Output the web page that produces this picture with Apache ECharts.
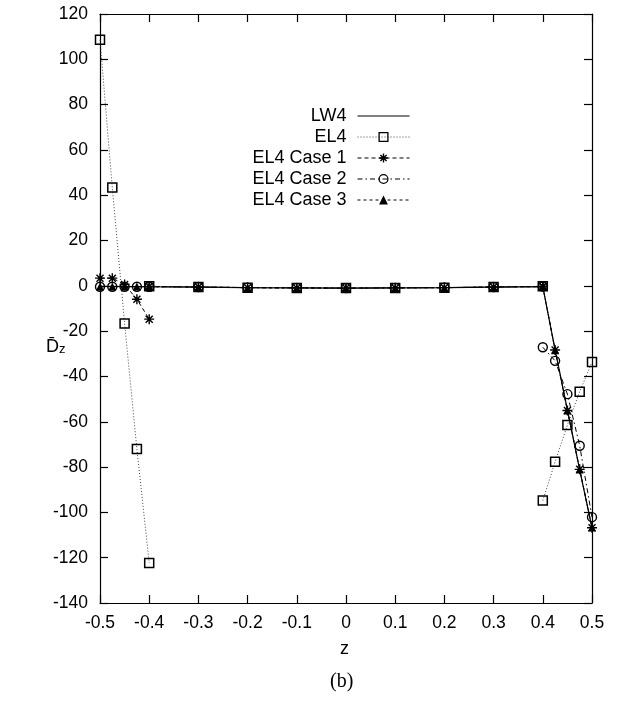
<!DOCTYPE html>
<html>
<head>
<meta charset="utf-8">
<script src="https://cdn.jsdelivr.net/npm/echarts@6/dist/echarts.min.js"></script>
<style>
html,body{margin:0;padding:0;background:#fff;}
#chart{width:626px;height:706px;}
</style>
</head>
<body>
<div id="chart"></div>
<script>
// ---- data ----
const zLeft  = [-0.5, -0.475, -0.45, -0.425, -0.4];
const zMid   = [-0.4, -0.3, -0.2, -0.1, 0, 0.1, 0.2, 0.3, 0.4];
const zRight = [0.4, 0.425, 0.45, 0.475, 0.5];

const lw4Left   = [-0.2, -0.2, -0.3, -0.3, -0.4];
const lw4Mid    = [-0.4, -0.6, -0.8, -0.9, -1.0, -0.9, -0.8, -0.6, -0.4];
const lw4Right  = [-0.4, -28.3, -54.8, -81.2, -106.8];

const el4Left   = [108.6, 43.4, -16.6, -72.0, -122.3];
const el4Mid    = [-0.2, -0.5, -0.8, -0.9, -1.0, -0.9, -0.8, -0.5, -0.2];
const el4Right  = [-94.8, -77.7, -61.4, -46.7, -33.6];

const c1Left    = [3.4, 3.4, 0.6, -5.9, -14.7];
const c1Mid     = [-0.3, -0.5, -0.8, -0.9, -1.0, -0.9, -0.8, -0.5, -0.3];
const c1Right   = [-0.3, -28.3, -55.0, -81.0, -106.8];

const c2Left    = [-0.4, -0.4, -0.4, -0.4, -0.4];
const c2Mid     = [-0.4, -0.5, -0.8, -0.9, -1.0, -0.9, -0.8, -0.5, -0.3];
const c2Right   = [-27.1, -33.1, -47.8, -70.6, -102.1];

const c3Left    = [-0.3, -0.3, -0.3, -0.3, -0.4];
const c3Mid     = [-0.4, -0.5, -0.8, -0.9, -1.0, -0.9, -0.8, -0.5, -0.3];
const c3Right   = [-0.3, -28.4, -55.0, -81.1, -106.7];

const seriesNames = ['LW4', 'EL4', 'EL4 Case 1', 'EL4 Case 2', 'EL4 Case 3'];
const xTicks = [-0.5, -0.4, -0.3, -0.2, -0.1, 0, 0.1, 0.2, 0.3, 0.4, 0.5];

// ---- build ----
function segs(l, m, r) {
  const out = [];
  zLeft.forEach((z, i) => out.push([z, l[i]]));
  out.push([zLeft[zLeft.length - 1], '-']);
  zMid.forEach((z, i) => out.push([z, m[i]]));
  out.push([zMid[zMid.length - 1], '-']);
  zRight.forEach((z, i) => out.push([z, r[i]]));
  return out;
}

const FONT = 'Liberation Sans, Arial, Helvetica, sans-serif';
const asterisk = 'path://M0,-10L0,10M-10,0L10,0M-7,-7L7,7M-7,7L7,-7';
const openSquare = 'path://M0,0L10,0L10,10L0,10Z';
const openCircle = 'path://M10,5A5,5,0,1,1,0,5A5,5,0,1,1,10,5Z';

const styles = [
  { symbol: 'none', size: 0, line: { color: '#000', width: 1.2, type: 'solid' }, item: { color: '#000' } },
  { symbol: openSquare, size: 9, line: { color: '#444', width: 1, type: [1, 2] }, item: { color: 'none', borderColor: '#000', borderWidth: 1.5 } },
  { symbol: asterisk, size: 10, line: { color: '#000', width: 1, type: [4, 3] }, item: { color: '#000', borderColor: '#000', borderWidth: 1.4 } },
  { symbol: openCircle, size: 9, line: { color: '#000', width: 1, type: [5, 3, 1.5, 3] }, item: { color: 'none', borderColor: '#000', borderWidth: 1.4 } },
  { symbol: 'triangle', size: 8, line: { color: '#000', width: 1, type: [3, 3] }, item: { color: '#000' } }
];
const dataSets = [
  segs(lw4Left, lw4Mid, lw4Right),
  segs(el4Left, el4Mid, el4Right),
  segs(c1Left, c1Mid, c1Right),
  segs(c2Left, c2Mid, c2Right),
  segs(c3Left, c3Mid, c3Right)
];

const series = seriesNames.map((n, i) => ({
  name: n,
  type: 'line',
  data: dataSets[i],
  xAxisIndex: 0, yAxisIndex: 0,
  symbol: styles[i].symbol,
  symbolSize: styles[i].size,
  showSymbol: styles[i].symbol !== 'none',
  lineStyle: styles[i].line,
  itemStyle: styles[i].item,
  connectNulls: false,
  animation: false,
  z: 2 + i
}));

const legendRowY = [116, 137, 158, 179, 200];
const legendItemStyle = [
  { opacity: 0 },
  { color: 'none', borderColor: '#000', borderWidth: 1.3 },
  { color: '#000', borderColor: '#000', borderWidth: 1.4 },
  { color: 'none', borderColor: '#000', borderWidth: 1.3 },
  { color: '#000', borderWidth: 0 }
];
const legends = seriesNames.map((n, i) => ({
  data: [n],
  right: 211,
  top: legendRowY[i] - 14,
  orient: 'horizontal',
  align: 'right',
  itemWidth: 52,
  itemHeight: 11,
  selectedMode: false,
  itemStyle: legendItemStyle[i],
  lineStyle: { width: 1 },
  textStyle: { fontFamily: FONT, fontSize: 18, color: '#000', padding: [0, 6, 0, 0] }
}));

const axisCommonX = {
  type: 'value', min: -0.5, max: 0.5, interval: 0.1,
  axisLine: { show: true, onZero: false, lineStyle: { color: '#000', width: 1.2 } },
  axisTick: { show: true, inside: true, length: 8, lineStyle: { color: '#000', width: 1.2 } },
  splitLine: { show: false }
};
const axisCommonY = {
  type: 'value', min: -140, max: 120, interval: 20,
  axisLine: { show: true, onZero: false, lineStyle: { color: '#000', width: 1.2 } },
  axisTick: { show: true, inside: true, length: 8, lineStyle: { color: '#000', width: 1.2 } },
  splitLine: { show: false }
};

const chart = echarts.init(document.getElementById('chart'), null, { renderer: 'canvas' });
chart.setOption({
  backgroundColor: '#fff',
  animation: false,
  grid: { left: 100, right: 34, top: 14, bottom: 103, containLabel: false },
  legend: legends,
  xAxis: [
    Object.assign({}, axisCommonX, {
      position: 'bottom',
      axisLabel: { show: true, margin: 11, fontFamily: FONT, fontSize: 17.5, color: '#000',
        formatter: v => { const r = Math.round(v * 10) / 10; return xTicks.indexOf(r) >= 0 ? String(r) : ''; } }
    }),
    Object.assign({}, axisCommonX, { position: 'top', axisLabel: { show: false } })
  ],
  yAxis: [
    Object.assign({}, axisCommonY, {
      position: 'left',
      axisLabel: { show: true, margin: 12, fontFamily: FONT, fontSize: 17.5, color: '#000' }
    }),
    Object.assign({}, axisCommonY, { position: 'right', axisLabel: { show: false } })
  ],
  series: series,
  graphic: [
    { type: 'text', left: 340, top: 640,
      style: { text: 'z', fontFamily: FONT, fontSize: 18, fill: '#000' } },
    { type: 'text', left: 330, top: 672,
      style: { text: '(b)', fontFamily: 'Liberation Serif, DejaVu Serif, serif', fontSize: 20, fill: '#000' } },
    { type: 'text', left: 46, top: 338,
      style: {
        text: '{d|D\u0304}{s|z}',
        rich: {
          d: { fontFamily: FONT, fontSize: 18, fill: '#000', verticalAlign: 'bottom' },
          s: { fontFamily: FONT, fontSize: 13, fill: '#000', padding: [8, 0, 0, 0], verticalAlign: 'bottom' }
        }
      } }
  ]
});
</script>
</body>
</html>
